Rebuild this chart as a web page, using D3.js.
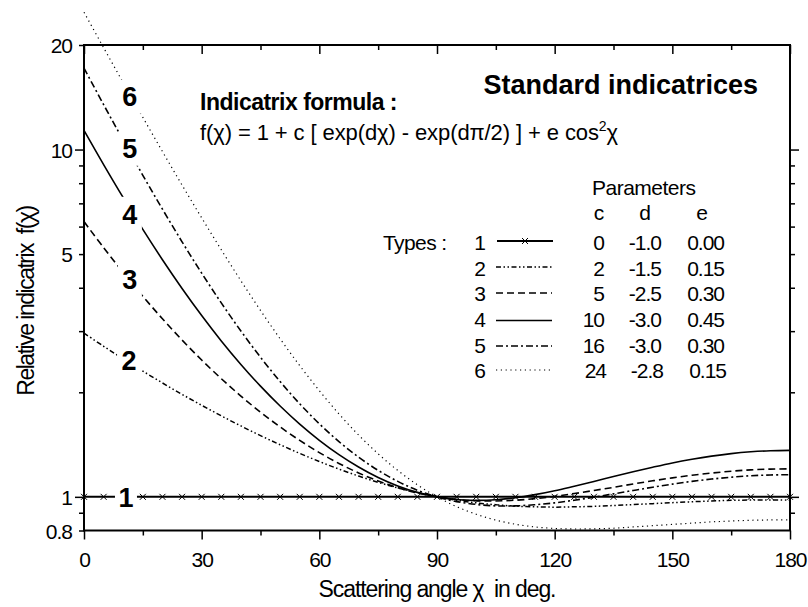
<!DOCTYPE html>
<html><head><meta charset="utf-8">
<script src="https://cdn.jsdelivr.net/npm/d3@7"></script>
<style>
html,body{margin:0;padding:0;background:#fff;}
svg{display:block;}
text{font-family:"Liberation Sans",Arial,Helvetica,sans-serif;fill:#000;}
</style>
</head><body>
<svg id="chart" width="808" height="607"></svg>
<script>
// ---- data ----
const angles = [0,5,10,15,20,25,30,35,40,45,50,55,60,65,70,75,80,85,90,95,100,105,110,115,120,125,130,135,140,145,150,155,160,165,170,175,180];
const type1 = [1,1,1,1,1,1,1,1,1,1,1,1,1,1,1,1,1,1,1,1,1,1,1,1,1,1,1,1,1,1,1,1,1,1,1,1,1];
const type2 = [2.960,2.714,2.495,2.301,2.128,1.973,1.835,1.711,1.600,1.501,1.413,1.334,1.264,1.202,1.148,1.101,1.061,1.028,1.000,0.978,0.961,0.949,0.940,0.936,0.934,0.936,0.939,0.944,0.950,0.956,0.962,0.968,0.973,0.977,0.979,0.980,0.978];
const type3 = [6.202,5.219,4.425,3.780,3.256,2.828,2.477,2.189,1.951,1.753,1.590,1.454,1.341,1.248,1.172,1.111,1.063,1.026,1.000,0.983,0.974,0.973,0.978,0.988,1.003,1.022,1.043,1.065,1.089,1.112,1.134,1.154,1.171,1.185,1.196,1.202,1.204];
const type4 = [11.36,9.054,7.271,5.890,4.817,3.981,3.327,2.812,2.406,2.083,1.826,1.620,1.455,1.323,1.219,1.137,1.075,1.030,1.000,0.983,0.977,0.981,0.994,1.015,1.041,1.073,1.107,1.144,1.181,1.217,1.252,1.283,1.310,1.332,1.348,1.358,1.361];
const type5 = [17.16,13.47,10.63,8.431,6.736,5.424,4.407,3.618,3.003,2.523,2.148,1.853,1.623,1.442,1.301,1.192,1.108,1.045,1.000,0.969,0.951,0.942,0.942,0.949,0.961,0.978,0.998,1.020,1.043,1.066,1.088,1.108,1.125,1.139,1.150,1.156,1.158];
const type6 = [24.85,19.65,15.57,12.38,9.870,7.902,6.358,5.145,4.191,3.442,2.852,2.387,2.022,1.733,1.507,1.330,1.191,1.083,1.000,0.937,0.891,0.857,0.834,0.819,0.811,0.808,0.809,0.812,0.819,0.826,0.833,0.840,0.847,0.852,0.856,0.858,0.858];

const typeNames = ["1","2","3","4","5","6"];
const paramC = ["0","2","5","10","16","24"];
const paramD = ["-1.0","-1.5","-2.5","-3.0","-3.0","-2.8"];
const paramE = ["0.00","0.15","0.30","0.45","0.30","0.15"];

// curve label anchor points (angle, value)
const labelAngle = [10.7, 11.5, 11.7, 11.7, 11.7, 11.7];
const labelValue = [1.0, 2.48, 4.22, 6.53, 10.05, 14.2];

const xMajorTicks = [0,30,60,90,120,150,180];
const xMinorTicks = [15,45,75,105,135,165];
const yLabelTicks = [0.8,1,5,10,20];
const yMajorTicks = [1,10];
const yMinorTicks = [0.8,0.9,2,3,4,5,6,7,8,9,20];
const yMinorTicksRight = [0.9,2,3,4,5,6,7,8,9];

// ---- styles ----
const lineStyles = [
  {w:2,   dash:null},
  {w:1.5, dash:"5,2.5,1.5,2.5,1.5,2.5"},
  {w:1.6, dash:"7,4"},
  {w:1.6, dash:null},
  {w:1.6, dash:"7,3,2,3"},
  {w:1.2, dash:"1.2,3.6"}
];
const series = [type1,type2,type3,type4,type5,type6];

const svg = d3.select("#chart");
const x = d3.scaleLinear().domain([0,180]).range([84,790]);
const y = d3.scaleLog().domain([0.8,20]).range([530.5,45]);
const FONT = 21;

// ---- curves ----
const line = d3.line().x(d=>x(d[0])).y(d=>y(d[1])).curve(d3.curveCatmullRom);
const gCurves = svg.append("g");
series.forEach((vals,i)=>{
  const pts = angles.map((a,k)=>[a, vals[k]]);
  gCurves.append("path")
    .attr("d", line(pts))
    .attr("fill","none")
    .attr("stroke","#000")
    .attr("stroke-width", lineStyles[i].w)
    .attr("stroke-dasharray", lineStyles[i].dash);
});
// markers on type 1
const xMark = "M-3,-3L3,3M-3,3L3,-3";
gCurves.selectAll("path.mk").data(angles.map((a,k)=>[a,type1[k]])).enter()
  .append("path").attr("class","mk")
  .attr("d", xMark)
  .attr("transform", d=>`translate(${x(d[0])},${y(d[1])})`)
  .attr("stroke","#000").attr("stroke-width",1).attr("fill","none");

// ---- curve labels with white knockout ----
const gLab = svg.append("g");
typeNames.forEach((t,i)=>{
  const cx = x(labelAngle[i]), cy = y(labelValue[i]);
  const w = (i===0)?22:24;
  gLab.append("rect").attr("x",cx-w/2).attr("y",cy-17).attr("width",w).attr("height",34).attr("fill","#fff");
  gLab.append("text").attr("x",cx).attr("y",cy+9.7).attr("text-anchor","middle")
    .attr("font-size",27).attr("font-weight","bold").text(t);
});

// ---- frame ----
svg.append("rect").attr("x",x(0)).attr("y",y(20)).attr("width",x(180)-x(0)).attr("height",y(0.8)-y(20))
  .attr("fill","none").attr("stroke","#000").attr("stroke-width",2);

function clean(g){ g.select(".domain").remove(); g.selectAll("line").attr("stroke","#000").attr("stroke-width",1.5); }

// bottom axis (outward)
svg.append("g").attr("transform",`translate(0,${y(0.8)})`)
  .call(d3.axisBottom(x).tickValues(xMajorTicks).tickSize(9).tickFormat("")).call(clean);
svg.append("g").attr("transform",`translate(0,${y(0.8)})`)
  .call(d3.axisBottom(x).tickValues(xMinorTicks).tickSize(5).tickFormat("")).call(clean);
const xLab = svg.append("g").attr("transform",`translate(0,${y(0.8)})`)
  .call(d3.axisBottom(x).tickValues(xMajorTicks).tickSize(0).tickPadding(21.5).tickFormat(d3.format("d")));
xLab.select(".domain").remove();
xLab.selectAll("text").attr("font-size",FONT).attr("letter-spacing","-1").style("font-family",'"Liberation Sans",Arial,sans-serif');

// top axis (inward)
svg.append("g").attr("transform",`translate(0,${y(20)})`)
  .call(d3.axisBottom(x).tickValues(xMajorTicks).tickSize(9).tickFormat("")).call(clean);
svg.append("g").attr("transform",`translate(0,${y(20)})`)
  .call(d3.axisBottom(x).tickValues(xMinorTicks).tickSize(5).tickFormat("")).call(clean);

// left axis (outward)
svg.append("g").attr("transform",`translate(${x(0)},0)`)
  .call(d3.axisLeft(y).tickValues(yMajorTicks).tickSize(9).tickFormat("")).call(clean);
svg.append("g").attr("transform",`translate(${x(0)},0)`)
  .call(d3.axisLeft(y).tickValues(yMinorTicks).tickSize(5).tickFormat("")).call(clean);
const yLab = svg.append("g").attr("transform",`translate(${x(0)},0)`)
  .call(d3.axisLeft(y).tickValues(yLabelTicks).tickSize(0).tickPadding(12).tickFormat(d3.format("")));
yLab.select(".domain").remove();
yLab.selectAll("text").attr("font-size",FONT).attr("letter-spacing","-1").attr("dy","0.37em").style("font-family",'"Liberation Sans",Arial,sans-serif');

// right axis (outward)
svg.append("g").attr("transform",`translate(${x(180)},0)`)
  .call(d3.axisRight(y).tickValues(yMajorTicks).tickSize(9).tickFormat("")).call(clean);
svg.append("g").attr("transform",`translate(${x(180)},0)`)
  .call(d3.axisRight(y).tickValues(yMinorTicksRight).tickSize(5).tickFormat("")).call(clean);

// ---- axis titles ----
svg.append("text").attr("x",(x(0)+x(180))/2).attr("y",597).attr("text-anchor","middle")
  .attr("font-size",23).attr("letter-spacing","-1.1").text("Scattering angle χ  in deg.")
  .style("white-space","pre");
svg.append("text").attr("transform","translate(34,301) rotate(-90)").attr("text-anchor","middle")
  .attr("font-size",23).attr("letter-spacing","-1.5").style("white-space","pre")
  .text("Relative indicatrix  f(χ)");

// ---- title & formula ----
svg.append("text").attr("x",758).attr("y",94).attr("text-anchor","end")
  .attr("font-size",27).attr("font-weight","bold").text("Standard indicatrices");
svg.append("text").attr("x",200).attr("y",110)
  .attr("font-size",23).attr("font-weight","bold").attr("letter-spacing","-0.5").text("Indicatrix formula :");
const f = svg.append("text").attr("x",200).attr("y",140).attr("font-size",22).attr("letter-spacing","-0.1");
f.append("tspan").text("f(χ) = 1 + c [ exp(dχ) - exp(dπ/2) ] + e cos");
f.append("tspan").attr("font-size",14).attr("dy",-9).text("2");
f.append("tspan").attr("dy",9).text("χ");

// ---- legend / parameter table ----
const rowBase = [250,275.5,301,327,352.5,378];
const lineY = [241,267,293,320.5,346,370];
const lg = svg.append("g").attr("font-size",FONT);
lg.append("text").attr("x",383).attr("y",rowBase[0]).attr("font-size",FONT).attr("letter-spacing","-0.6").text("Types :");
lg.append("text").attr("x",592).attr("y",195).attr("font-size",FONT).attr("letter-spacing","-0.5").text("Parameters");
[["c",599],["d",645],["e",702]].forEach(h=>{
  lg.append("text").attr("x",h[1]).attr("y",220).attr("text-anchor","middle").attr("font-size",FONT).text(h[0]);
});
typeNames.forEach((t,i)=>{
  lg.append("text").attr("x",480).attr("y",rowBase[i]).attr("text-anchor","middle").attr("font-size",FONT).text(t);
  const x1 = (i===0)?497:496, x2 = (i===0)?553:552;
  lg.append("line").attr("x1",x1).attr("x2",x2).attr("y1",lineY[i]).attr("y2",lineY[i])
    .attr("stroke","#000").attr("stroke-width",lineStyles[i].w).attr("stroke-dasharray",lineStyles[i].dash);
  if(i===0){
    lg.append("path").attr("d",xMark).attr("transform",`translate(${(x1+x2)/2},${lineY[i]})`)
      .attr("stroke","#000").attr("stroke-width",1).attr("fill","none");
  }
  const off = (i===5)?2:0;
  lg.append("text").attr("x",604+off).attr("y",rowBase[i]).attr("text-anchor","end").attr("font-size",FONT).attr("letter-spacing","-1").text(paramC[i]);
  lg.append("text").attr("x",661+off).attr("y",rowBase[i]).attr("text-anchor","end").attr("font-size",FONT).attr("letter-spacing","-1").text(paramD[i]);
  lg.append("text").attr("x",724+off).attr("y",rowBase[i]).attr("text-anchor","end").attr("font-size",FONT).attr("letter-spacing","-1").text(paramE[i]);
});
</script>
</body></html>
